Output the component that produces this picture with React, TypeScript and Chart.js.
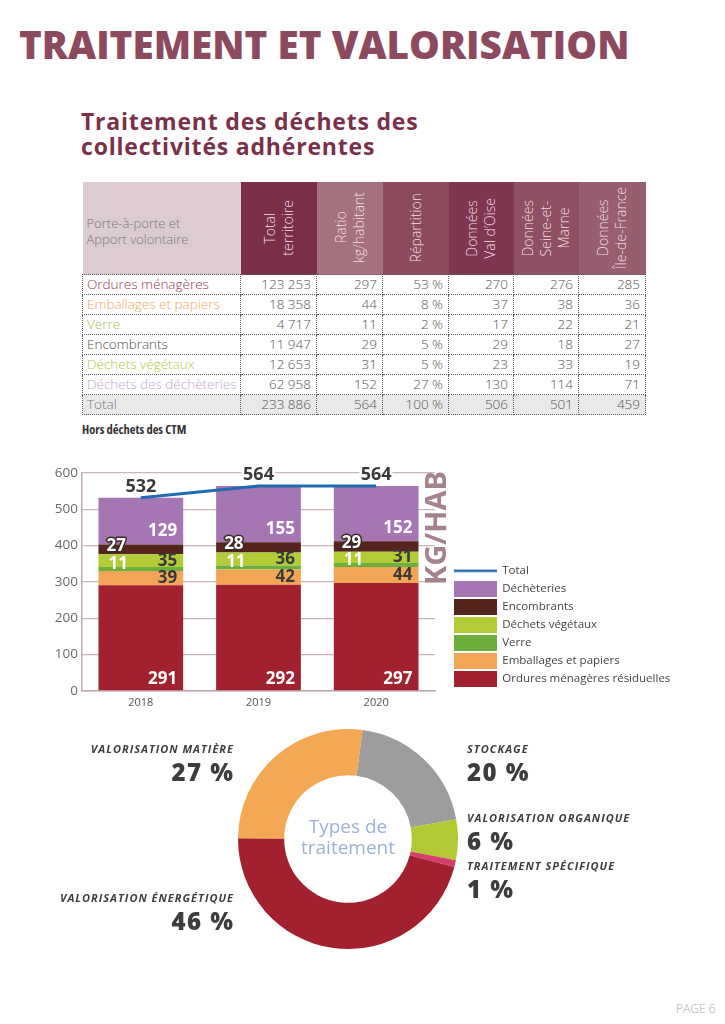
import React, { useEffect, useRef } from "react";
import { Chart, registerables } from "chart.js";

Chart.register(...registerables);

// ---------- DATA ----------
const years = ["2018", "2019", "2020"];
const omrValues = [291, 292, 297];
const emballagesValues = [39, 42, 44];
const verreValues = [11, 11, 11];
const vegetauxValues = [35, 36, 31];
const encombrantsValues = [27, 28, 29];
const decheteriesValues = [129, 155, 152];
const totalValues = [532, 564, 564];
const yMin = 0;
const yMax = 600;
const yStep = 100;

const seriesNames = [
  "Ordures ménagères résiduelles",
  "Emballages et papiers",
  "Verre",
  "Déchets végétaux",
  "Encombrants",
  "Déchèteries",
  "Total",
];

const donutLabels = [
  "STOCKAGE",
  "VALORISATION ORGANIQUE",
  "TRAITEMENT SPÉCIFIQUE",
  "VALORISATION ÉNERGÉTIQUE",
  "VALORISATION MATIÈRE",
];
const donutValues = [20, 6, 1, 46, 27];

const tableRowLabels = [
  "Ordures ménagères",
  "Emballages et papiers",
  "Verre",
  "Encombrants",
  "Déchets végétaux",
  "Déchets des déchèteries",
  "Total",
];
const tableHeaders = [
  ["Total", "territoire"],
  ["Ratio", "kg/habitant"],
  ["Répartition"],
  ["Données", "Val d’Oise"],
  ["Données", "Seine-et-", "Marne"],
  ["Données", "Île-de-France"],
];
const colTotalTerritoire = ["123 253", "18 358", "4 717", "11 947", "12 653", "62 958", "233 886"];
const colRatio = ["297", "44", "11", "29", "31", "152", "564"];
const colRepartition = ["53 %", "8 %", "2 %", "5 %", "5 %", "27 %", "100 %"];
const colValDOise = ["270", "37", "17", "29", "23", "130", "506"];
const colSeineEtMarne = ["276", "38", "22", "18", "33", "114", "501"];
const colIleDeFrance = ["285", "36", "21", "27", "19", "71", "459"];

// ---------- STYLES ----------
const FONT = "'Open Sans', 'Noto Sans', sans-serif";
const barColors = ["#A1212F", "#F2A655", "#6CAF3C", "#B3CB35", "#55241C", "#A675B3"];
const lineColor = "#1F6AB0";
const donutColors = ["#9D9D9D", "#B2C933", "#D53E6E", "#A3212F", "#F3A853"];
const headerColors = ["#7A2E47", "#A4727E", "#8B4B5D", "#7F3650", "#8E5062", "#965E6E"];
const rowColors = ["#8E3A52", "#E9A85E", "#A2C25A", "#4F4F4F", "#B2CA3F", "#C2A6CB", "#7A7A7A"];
const colWidths = [158, 76, 66, 66, 65, 65, 67];
const mauve = "#BFA7B0";

// label style per dataset index (positions only)
const labelStyles: any[] = [
  { color: "#FFFFFF", align: "right", mode: "bottom", dy: 11 },
  { color: "#3A3A3A", align: "right", mode: "center", dy: 0 },
  { color: "#FFFFFF", align: "left", mode: "center", dy: -5, dx: 10 },
  { color: "#3A3A3A", align: "right", mode: "center", dy: 0 },
  { color: "#FFFFFF", align: "left", mode: "center", dy: -3, dx: 8, stroke: "#3A2A25" },
  { color: "#FFFFFF", align: "right", mode: "bottom", dy: 13 },
  { color: "#3A3A3A", align: "center", mode: "above", dy: 11, stroke: "#FFFFFF" },
];

function makeSwatch(color: string, isLine: boolean) {
  const c = document.createElement("canvas");
  c.width = 43;
  c.height = 16;
  const g = c.getContext("2d")!;
  g.fillStyle = color;
  if (isLine) g.fillRect(0, 7, 43, 2.5);
  else g.fillRect(0, 0, 43, 16);
  return c;
}

const barLabelPlugin = {
  id: "barLabels",
  afterDatasetsDraw(chart: any) {
    const ctx = chart.ctx;
    chart.data.datasets.forEach((ds: any, i: number) => {
      const st = labelStyles[i];
      if (!st) return;
      const meta = chart.getDatasetMeta(i);
      meta.data.forEach((el: any, j: number) => {
        const p = el.getProps(["x", "y", "base", "width"], true);
        const text = String(ds.data[j]);
        ctx.save();
        ctx.font = `bold ${st.mode === "above" ? 18 : 17}px ${FONT}`;
        ctx.textBaseline = "middle";
        let tx = p.x;
        let ty = p.y;
        if (st.mode === "bottom") ty = p.base - st.dy;
        else if (st.mode === "center") ty = (p.y + p.base) / 2 + st.dy;
        else ty = p.y - st.dy;
        if (st.align === "right") {
          ctx.textAlign = "right";
          tx = p.x + p.width / 2 - 6;
        } else if (st.align === "left") {
          ctx.textAlign = "left";
          tx = p.x - p.width / 2 + st.dx;
        } else {
          ctx.textAlign = "center";
        }
        if (st.stroke) {
          ctx.lineJoin = "round";
          ctx.lineWidth = st.mode === "above" ? 5 : 3;
          ctx.strokeStyle = st.stroke;
          ctx.strokeText(text, tx, ty);
        }
        ctx.fillStyle = st.color;
        ctx.fillText(text, tx, ty);
        ctx.restore();
      });
    });
    const a = chart.chartArea;
    ctx.save();
    ctx.translate(a.right + 2.5, a.top + 55);
    ctx.rotate(-Math.PI / 2);
    ctx.font = `bold 29px ${FONT}`;
    ctx.textAlign = "center";
    ctx.textBaseline = "middle";
    ctx.fillStyle = "#A5838E";
    ctx.fillText("KG/HAB", 0, 0);
    ctx.restore();
  },
};

const centerTextPlugin = {
  id: "centerText",
  afterDraw(chart: any) {
    const a = chart.chartArea;
    const cx = (a.left + a.right) / 2;
    const cy = (a.top + a.bottom) / 2;
    const ctx = chart.ctx;
    ctx.save();
    ctx.font = `19px ${FONT}`;
    ctx.fillStyle = "#9CB3D8";
    ctx.textAlign = "center";
    ctx.textBaseline = "middle";
    ctx.fillText("Types de", cx, cy - 11);
    ctx.fillText("traitement", cx, cy + 10);
    ctx.restore();
  },
};

function BarChart() {
  const ref = useRef<HTMLCanvasElement>(null);
  useEffect(() => {
    const seriesData = [
      omrValues,
      emballagesValues,
      verreValues,
      vegetauxValues,
      encombrantsValues,
      decheteriesValues,
    ];
    const datasets: any[] = seriesData.map((d, i) => ({
      type: "bar",
      label: seriesNames[i],
      data: d,
      backgroundColor: barColors[i],
      borderWidth: 0,
      barPercentage: 0.72,
      categoryPercentage: 1,
      order: 1,
      yAxisID: "y",
    }));
    datasets.push({
      type: "line",
      label: seriesNames[6],
      data: totalValues,
      borderColor: lineColor,
      borderWidth: 3,
      pointRadius: 0,
      fill: false,
      order: 0,
      yAxisID: "y",
    });
    const legendOrder = [6, 5, 4, 3, 2, 1, 0];
    const chart = new Chart(ref.current!, {
      type: "bar",
      data: { labels: years, datasets },
      plugins: [barLabelPlugin],
      options: {
        animation: false,
        responsive: false,
        layout: { padding: { top: 18, bottom: 2, left: 0, right: 0 } },
        scales: {
          x: {
            stacked: true,
            grid: { display: false, drawTicks: false },
            border: { display: true, color: mauve, width: 1.5 },
            ticks: { color: "#555", font: { family: FONT, size: 11 }, padding: 5 },
          },
          y: {
            stacked: true,
            min: yMin,
            max: yMax,
            ticks: { stepSize: yStep, color: "#6A6A6A", font: { family: FONT, size: 13.5 }, padding: 4 },
            grid: { color: "#C9B5BC", lineWidth: 1.2, drawTicks: false },
            border: { display: true, color: mauve, width: 1.5 },
            afterFit: (s: any) => {
              s.width = 42;
            },
          },
          y2: {
            position: "right",
            display: true,
            grid: { display: false },
            border: { display: false },
            ticks: { display: false },
            afterFit: (s: any) => {
              s.width = 12;
            },
          },
        },
        plugins: {
          tooltip: { enabled: false },
          legend: {
            position: "right",
            align: "end",
            fullSize: false,
            maxWidth: 228,
            labels: {
              usePointStyle: true,
              pointStyleWidth: 43,
              padding: 6.5,
              color: "#444",
              font: { family: FONT, size: 11.5 },
              generateLabels: (ch: any) =>
                legendOrder.map((i) => {
                  const ds = ch.data.datasets[i];
                  const col = i === 6 ? lineColor : barColors[i];
                  return {
                    text: ds.label,
                    datasetIndex: i,
                    fillStyle: col,
                    strokeStyle: col,
                    lineWidth: 0,
                    hidden: false,
                    fontColor: "#444",
                    pointStyle: makeSwatch(col, i === 6),
                  };
                }),
            },
          },
        },
      } as any,
    });
    return () => chart.destroy();
  }, []);
  return (
    <canvas
      ref={ref}
      width={635}
      height={261}
      style={{ position: "absolute", left: 40, top: 455, width: 635, height: 261 }}
    />
  );
}

function DonutChart() {
  const ref = useRef<HTMLCanvasElement>(null);
  useEffect(() => {
    const chart = new Chart(ref.current!, {
      type: "doughnut",
      data: {
        labels: donutLabels,
        datasets: [{ data: donutValues, backgroundColor: donutColors, borderWidth: 0 }],
      },
      plugins: [centerTextPlugin],
      options: {
        animation: false,
        responsive: false,
        rotation: 7.6,
        cutout: "58%",
        layout: { padding: 10 },
        plugins: { legend: { display: false }, tooltip: { enabled: false } },
      } as any,
    });
    return () => chart.destroy();
  }, []);
  return (
    <canvas
      ref={ref}
      width={240}
      height={240}
      style={{ position: "absolute", left: 228, top: 719, width: 240, height: 240 }}
    />
  );
}

function DonutLabel(props: { name: string; pct: string; x: number; y: number; right?: boolean }) {
  const { name, pct, x, y, right } = props;
  const base: any = {
    position: "absolute",
    whiteSpace: "nowrap",
    fontFamily: FONT,
    color: "#3D3D3D",
  };
  if (right) base.right = 725 - x;
  else base.left = x;
  return (
    <>
      <div
        style={{
          ...base,
          top: y - 8,
          height: 16,
          lineHeight: "16px",
          fontSize: 11,
          fontStyle: "italic",
          fontWeight: 700,
          letterSpacing: 1,
          marginRight: right ? -1 : 0,
        }}
      >
        {name}
      </div>
      <div
        style={{
          ...base,
          top: y + 22.5 - 15,
          height: 30,
          lineHeight: "30px",
          fontSize: 24,
          fontWeight: 800,
          letterSpacing: 1.5,
          marginRight: right ? -1.5 : 0,
        }}
      >
        {pct}
      </div>
    </>
  );
}

function DataTable() {
  const cols = [colTotalTerritoire, colRatio, colRepartition, colValDOise, colSeineEtMarne, colIleDeFrance];
  const dotted = "1px dotted #5F5F5F";
  return (
    <table
      style={{
        position: "absolute",
        left: 82,
        top: 182,
        borderCollapse: "collapse",
        tableLayout: "fixed",
        width: 563,
        fontFamily: FONT,
        fontWeight: 300,
      }}
    >
      <colgroup>
        {colWidths.map((w, i) => (
          <col key={i} style={{ width: w }} />
        ))}
      </colgroup>
      <thead>
        <tr style={{ height: 92 }}>
          <th
            style={{
              background: "#DCCBD0",
              padding: "6px 0 0 4px",
              textAlign: "left",
              fontWeight: 300,
              fontSize: 13,
              lineHeight: "16px",
              color: "#7A7A7A",
            }}
          >
            Porte-à-porte et
            <br />
            Apport volontaire
          </th>
          {tableHeaders.map((lines, i) => (
            <th key={i} style={{ background: headerColors[i], padding: 0, height: 92 }}>
              <div
                style={{
                  display: "flex",
                  justifyContent: "center",
                  alignItems: "center",
                  height: 92,
                }}
              >
                <div
                  style={{
                    writingMode: "vertical-rl",
                    transform: "rotate(180deg)",
                    fontSize: 14,
                    lineHeight: "18px",
                    fontWeight: 300,
                    color: "#F3DFE5",
                    textAlign: "center",
                    whiteSpace: "nowrap",
                  }}
                >
                  {lines.map((l, k) => (
                    <React.Fragment key={k}>
                      {k > 0 && <br />}
                      {l}
                    </React.Fragment>
                  ))}
                </div>
              </div>
            </th>
          ))}
        </tr>
      </thead>
      <tbody>
        {tableRowLabels.map((label, r) => (
          <tr key={r} style={{ height: 20, background: r === tableRowLabels.length - 1 ? "#E9E9E9" : "transparent" }}>
            <td
              style={{
                border: dotted,
                padding: "0 0 0 4px",
                fontSize: 13.5,
                lineHeight: "19px",
                color: rowColors[r],
                whiteSpace: "nowrap",
              }}
            >
              {label}
            </td>
            {cols.map((c, k) => (
              <td
                key={k}
                style={{
                  border: dotted,
                  padding: "0 5px 0 0",
                  textAlign: "right",
                  fontSize: 13.5,
                  lineHeight: "19px",
                  color: "#555",
                  whiteSpace: "nowrap",
                }}
              >
                {c[r]}
              </td>
            ))}
          </tr>
        ))}
      </tbody>
    </table>
  );
}

export default function App() {
  return (
    <div
      style={{
        position: "absolute",
        left: 0,
        top: 0,
        width: 725,
        height: 1024,
        background: "#FFFFFF",
        overflow: "hidden",
        fontFamily: FONT,
      }}
    >
      <div
        style={{
          position: "absolute",
          left: 19,
          top: 24.9,
          fontSize: 38.7,
          lineHeight: "38.7px",
          fontWeight: 800,
          color: "#8D4A5F",
          whiteSpace: "nowrap",
        }}
      >
        TRAITEMENT ET VALORISATION
      </div>
      <div
        style={{
          position: "absolute",
          left: 81,
          top: 109,
          fontSize: 23,
          lineHeight: "25.3px",
          fontWeight: 700,
          letterSpacing: 0.8,
          color: "#7A3049",
          whiteSpace: "nowrap",
        }}
      >
        Traitement des déchets des
        <br />
        collectivités adhérentes
      </div>
      <DataTable />
      <div
        style={{
          position: "absolute",
          left: 82,
          top: 422,
          fontSize: 12.5,
          lineHeight: "16px",
          fontWeight: 700,
          color: "#333",
          whiteSpace: "nowrap",
          fontStretch: "87.5%",
        }}
      >
        Hors déchets des CTM
      </div>
      <BarChart />
      <DonutChart />
      <DonutLabel name={donutLabels[4]} pct={`${donutValues[4]} %`} x={233} y={749} right />
      <DonutLabel name={donutLabels[3]} pct={`${donutValues[3]} %`} x={233} y={898} right />
      <DonutLabel name={donutLabels[0]} pct={`${donutValues[0]} %`} x={467} y={749} />
      <DonutLabel name={donutLabels[1]} pct={`${donutValues[1]} %`} x={467} y={818} />
      <DonutLabel name={donutLabels[2]} pct={`${donutValues[2]} %`} x={467} y={866} />
      <div
        style={{
          position: "absolute",
          left: 676,
          top: 1001,
          fontSize: 12,
          lineHeight: "16px",
          fontWeight: 300,
          color: "#ABABAB",
          whiteSpace: "nowrap",
        }}
      >
        PAGE 6
      </div>
    </div>
  );
}
